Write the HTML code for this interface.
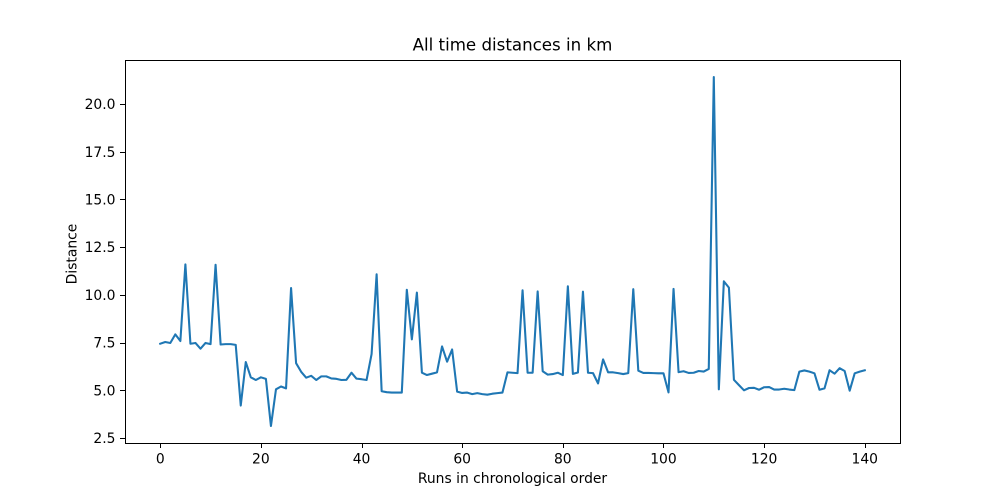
<!DOCTYPE html>
<html>
<head>
<meta charset="utf-8">
<title>All time distances in km</title>
<style>
html,body{margin:0;padding:0;background:#fff;width:1000px;height:498px;overflow:hidden}
svg{display:block}
text{font-family:"DejaVu Sans",sans-serif;fill:#000}
</style>
</head>
<body>
<svg id="chart" width="1000" height="498" viewBox="0 0 1000 498" xmlns="http://www.w3.org/2000/svg">
<rect x="0" y="0" width="1000" height="498" fill="#fff"/>
<text x="512.5" y="50.5" font-size="16.67" text-anchor="middle">All time distances in km</text>
<text x="512.5" y="483" font-size="13.89" text-anchor="middle">Runs in chronological order</text>
<text x="76.5" y="254" font-size="13.89" text-anchor="middle" transform="rotate(-90 76.5 254)">Distance</text>
<g id="ticks"></g>
<polyline id="series" fill="none" stroke="#1f77b4" stroke-width="2.08" stroke-linejoin="round" stroke-linecap="square"/>
<rect x="125.5" y="60.5" width="775" height="383" fill="none" stroke="#000" stroke-width="1.11" shape-rendering="crispEdges"/>
</svg>
<script>
var distances = [
7.44,7.53,7.48,7.93,7.58,11.6,7.44,7.48,7.18,7.48,
7.42,11.58,7.4,7.42,7.42,7.38,4.2,6.48,5.68,5.54,
5.68,5.6,3.13,5.05,5.2,5.1,10.36,6.42,5.97,5.66,
5.76,5.54,5.73,5.73,5.62,5.6,5.54,5.55,5.92,5.61,
5.58,5.54,6.9,11.08,4.95,4.9,4.88,4.88,4.88,10.27,
7.67,10.12,5.92,5.8,5.87,5.94,7.3,6.5,7.14,4.93,
4.86,4.88,4.8,4.85,4.8,4.77,4.82,4.85,4.88,5.94,
5.92,5.9,10.24,5.92,5.92,10.18,6.0,5.82,5.85,5.92,
5.8,10.45,5.86,5.93,10.17,5.92,5.9,5.36,6.62,5.94,
5.94,5.9,5.85,5.9,10.3,6.03,5.91,5.91,5.9,5.89,
5.89,4.89,10.31,5.95,6.0,5.91,5.92,6.01,5.98,6.12,
21.42,5.05,10.71,10.38,5.55,5.27,5.0,5.12,5.13,5.03,
5.16,5.17,5.04,5.04,5.08,5.04,5.01,5.98,6.04,5.98,
5.89,5.03,5.1,6.05,5.87,6.16,6.01,4.98,5.89,5.98,6.05
];
var xTickValues = [0,20,40,60,80,100,120,140];
var yTickValues = [2.5,5,7.5,10,12.5,15,17.5,20];
var yTickLabels = ["2.5","5.0","7.5","10.0","12.5","15.0","17.5","20.0"];

var plotLeft = 125, plotRight = 900, plotTop = 60, plotBottom = 443;
var xMin = -7, xMax = 147, yMin = 2.2375, yMax = 22.31;
var NS = "http://www.w3.org/2000/svg";

function xScale(v){ return plotLeft + (v - xMin) / (xMax - xMin) * (plotRight - plotLeft); }
function yScale(v){ return plotBottom - (v - yMin) / (yMax - yMin) * (plotBottom - plotTop); }

var pts = [];
for (var i = 0; i < distances.length; i++) {
  pts.push(xScale(i).toFixed(2) + "," + yScale(distances[i]).toFixed(2));
}
document.getElementById("series").setAttribute("points", pts.join(" "));

var tg = document.getElementById("ticks");
function mk(tag, attrs){
  var el = document.createElementNS(NS, tag);
  for (var k in attrs) el.setAttribute(k, attrs[k]);
  return el;
}
xTickValues.forEach(function(v){
  var x = Math.round(xScale(v)) + 0.5;
  var line = mk("line", {x1:x, x2:x, y1:443, y2:448, stroke:"#000", "stroke-width":1.11, "shape-rendering":"crispEdges"});
  
  
  tg.appendChild(line);
  var t = mk("text", {x:xScale(v), y:463.5, "font-size":13.89, "text-anchor":"middle"});
  
  
  t.textContent = String(v);
  tg.appendChild(t);
});
yTickValues.forEach(function(v, idx){
  var y = Math.round(yScale(v)) + 0.5;
  var line = mk("line", {x1:120, x2:125, y1:y, y2:y, stroke:"#000", "stroke-width":1.11, "shape-rendering":"crispEdges"});
  
  
  tg.appendChild(line);
  var t = mk("text", {x:115.5, y:yScale(v) + 5, "font-size":13.89, "text-anchor":"end"});
  
  
  t.textContent = yTickLabels[idx];
  tg.appendChild(t);
});
</script>
</body>
</html>
